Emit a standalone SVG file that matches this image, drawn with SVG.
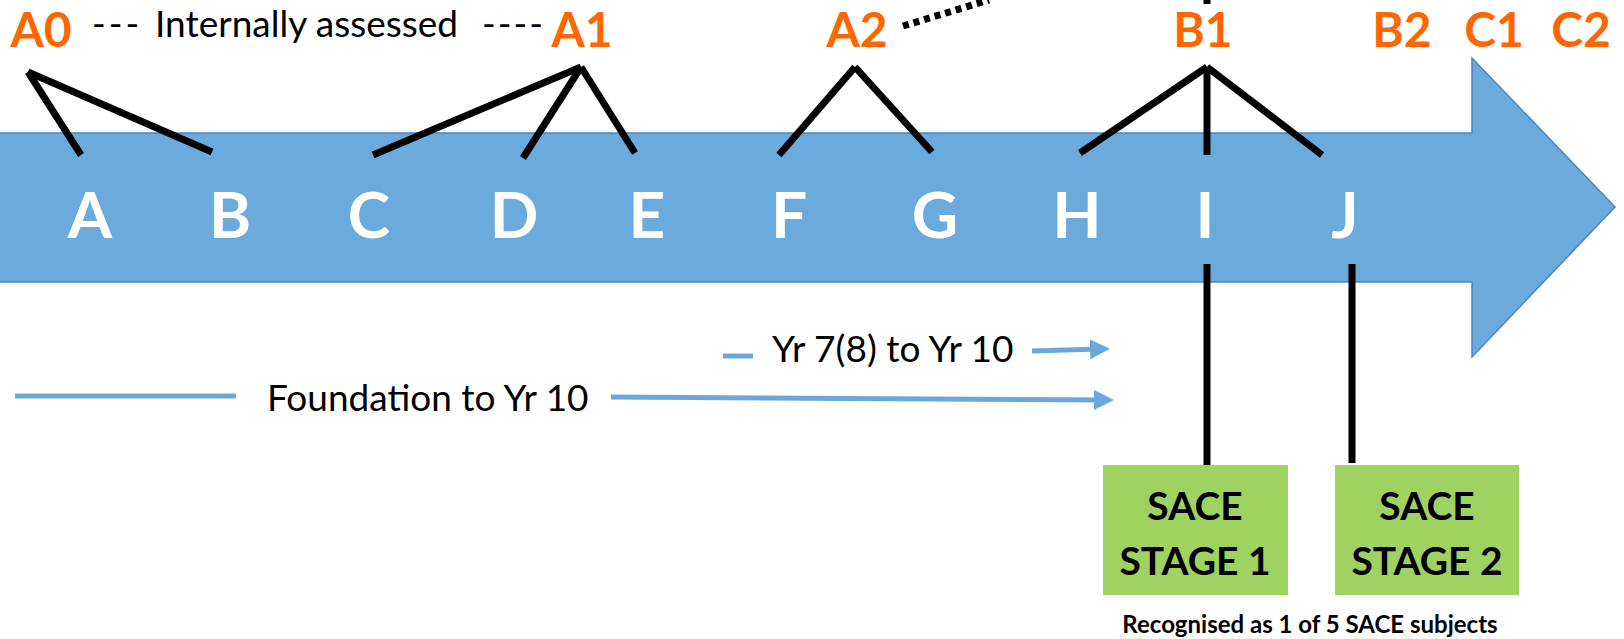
<svg xmlns="http://www.w3.org/2000/svg" width="1624" height="639" viewBox="0 0 1624 639">
<style>
.lvl{font-family:Lato,"Open Sans","Liberation Sans",sans-serif;font-weight:bold;font-size:48px;fill:#FF6600;text-anchor:middle}
.let{font-family:Lato,"Open Sans","Liberation Sans",sans-serif;font-weight:bold;font-size:64px;fill:#FFFFFF;text-anchor:middle}
.reg{font-family:Lato,"Open Sans","Liberation Sans",sans-serif;font-size:37px;fill:#000000}
.box{fill:#A0D262}
.bt{font-family:Lato,"Open Sans","Liberation Sans",sans-serif;font-weight:bold;font-size:39px;fill:#000000;text-anchor:middle}
.note{font-family:Lato,"Open Sans","Liberation Sans",sans-serif;font-weight:bold;font-size:24px;fill:#000000;text-anchor:middle}
.blk{stroke:#000000;stroke-width:7;fill:none}
.blu{stroke:#6AA8DC;stroke-width:5;fill:none}
</style>
<defs>
<marker id="ah" markerWidth="4" markerHeight="4" refX="2" refY="2" orient="auto" markerUnits="strokeWidth">
<path d="M0,0 L4,2 L0,4 Z" fill="#6AA8DC"/>
</marker>
</defs>
<rect width="1624" height="639" fill="#FFFFFF"/>
<g id="timeline-arrow">
<path d="M-5,133 L1472,133 L1472,58 L1615,207 L1472,357 L1472,282 L-5,282 Z" fill="#6BAADC" stroke="#4F86B8" stroke-width="1.5"/>
</g>
<g id="connectors">
<line class="blk" x1="28" y1="72" x2="81" y2="155"/>
<line class="blk" x1="28" y1="72" x2="212" y2="152"/>
<line class="blk" x1="581" y1="67" x2="373" y2="155"/>
<line class="blk" x1="581" y1="67" x2="523" y2="158"/>
<line class="blk" x1="581" y1="67" x2="635" y2="153"/>
<line class="blk" x1="855" y1="67" x2="779" y2="155"/>
<line class="blk" x1="855" y1="67" x2="932" y2="152"/>
<line class="blk" x1="1207" y1="67" x2="1080" y2="153"/>
<line class="blk" x1="1207" y1="67" x2="1207" y2="155"/>
<line class="blk" x1="1207" y1="67" x2="1322" y2="155"/>
<line class="blk" x1="1207" y1="-2" x2="1207" y2="4" stroke-width="5"/>
<line stroke="#000000" stroke-width="7" stroke-dasharray="6 5" x1="903" y1="26" x2="989" y2="0"/>
<line class="blk" x1="1207" y1="264" x2="1207" y2="466"/>
<line class="blk" x1="1352" y1="264" x2="1352" y2="463"/>
<line class="blu" x1="15" y1="396" x2="236" y2="396"/>
<line class="blu" x1="611" y1="397" x2="1104" y2="400" marker-end="url(#ah)"/>
<line class="blu" x1="723" y1="356" x2="753" y2="356"/>
<line class="blu" x1="1032" y1="351" x2="1100" y2="349" marker-end="url(#ah)"/>
</g>
<g id="level-A0"><text class="lvl" x="41" y="47">A0</text></g>
<g id="internal-label"><text class="reg" y="37"><tspan x="92" style="letter-spacing:3px">---</tspan><tspan x="155">Internally assessed</tspan><tspan x="482" style="letter-spacing:2px">----</tspan></text></g>
<g id="level-A1"><text class="lvl" x="582" y="47">A1</text></g>
<g id="level-A2"><text class="lvl" x="857" y="47">A2</text></g>
<g id="level-B1"><text class="lvl" x="1203" y="47">B1</text></g>
<g id="level-B2"><text class="lvl" x="1402" y="47">B2</text></g>
<g id="level-C1"><text class="lvl" x="1494" y="47">C1</text></g>
<g id="level-C2"><text class="lvl" x="1581" y="47">C2</text></g>
<g id="letter-A"><text class="let" x="90" y="238">A</text></g>
<g id="letter-B"><text class="let" x="230" y="238">B</text></g>
<g id="letter-C"><text class="let" x="369" y="238">C</text></g>
<g id="letter-D"><text class="let" x="514" y="238">D</text></g>
<g id="letter-E"><text class="let" x="647" y="238">E</text></g>
<g id="letter-F"><text class="let" x="789" y="238">F</text></g>
<g id="letter-G"><text class="let" x="935" y="238">G</text></g>
<g id="letter-H"><text class="let" x="1077" y="238">H</text></g>
<g id="letter-I"><text class="let" x="1205" y="238">I</text></g>
<g id="letter-J"><text class="let" x="1345" y="238">J</text></g>
<g id="label-yr7"><text class="reg" x="772" y="362">Yr 7(8) to Yr 10</text></g>
<g id="label-foundation"><text class="reg" x="267" y="411">Foundation to Yr 10</text></g>
<g id="sace-stage-1">
<rect class="box" x="1103" y="465" width="185" height="130"/>
<text class="bt" x="1195" y="520">SACE</text>
<text class="bt" x="1195" y="575">STAGE 1</text>
</g>
<g id="sace-stage-2">
<rect class="box" x="1335" y="465" width="184" height="130"/>
<text class="bt" x="1427" y="520">SACE</text>
<text class="bt" x="1427" y="575">STAGE 2</text>
</g>
<g id="note"><text class="note" x="1310" y="633">Recognised as 1 of 5 SACE subjects</text></g>
</svg>
